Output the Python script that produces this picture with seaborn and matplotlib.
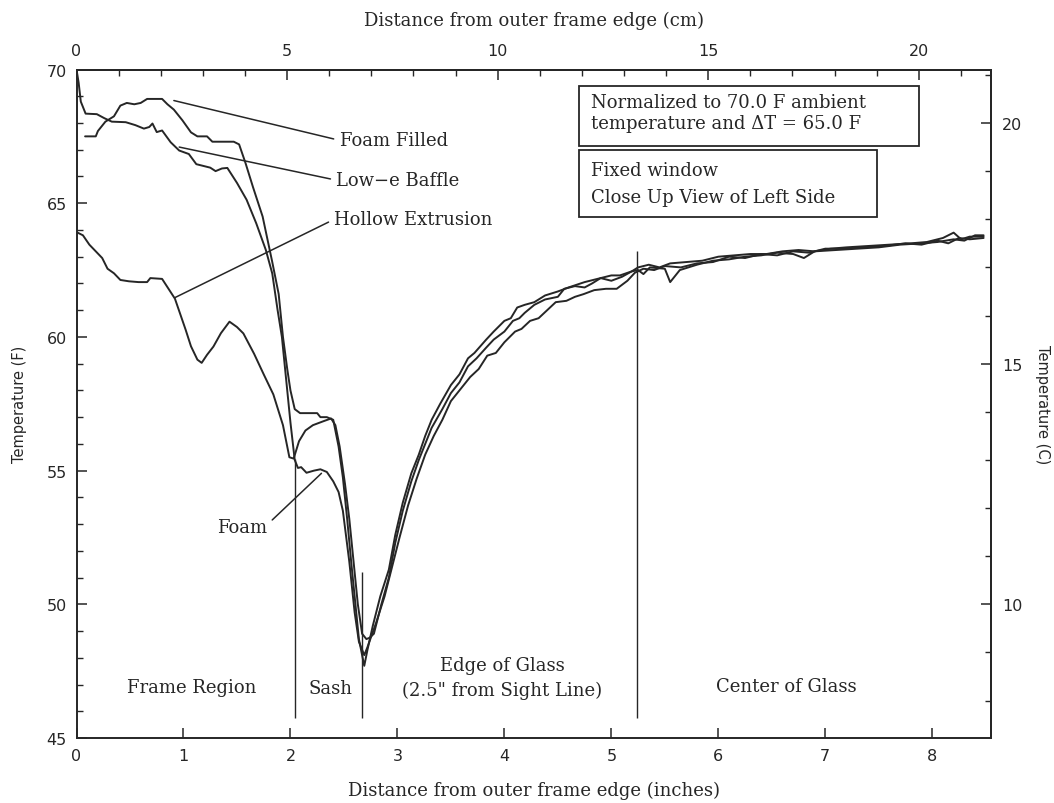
import matplotlib
matplotlib.use("Agg")
import matplotlib.pyplot as plt
import seaborn as sns
from matplotlib.ticker import FixedLocator, NullLocator
from matplotlib.patches import Rectangle

# ---------------- data (inches, deg F) ----------------
lowe_x = [0.00, 0.02, 0.04, 0.085, 0.19, 0.26, 0.33, 0.46, 0.55, 0.63, 0.68, 0.71, 0.75, 0.80, 0.88,
          0.96, 1.05, 1.12, 1.25, 1.30, 1.36, 1.41, 1.50, 1.59, 1.68, 1.77, 1.83, 1.88, 1.92, 1.96,
          2.00, 2.04, 2.07, 2.10, 2.15, 2.22, 2.28, 2.34, 2.40, 2.45, 2.49, 2.55, 2.60, 2.64, 2.69,
          2.72, 2.80, 2.88, 2.95, 3.02, 3.10, 3.18, 3.26, 3.34, 3.42, 3.50, 3.60, 3.68, 3.76, 3.84,
          3.92, 4.00, 4.10, 4.16, 4.24, 4.32, 4.40, 4.48, 4.58, 4.66, 4.74, 4.84, 4.95, 5.05, 5.15,
          5.22, 5.30, 5.40, 5.50, 5.65, 5.80, 5.95, 6.10, 6.25, 6.40, 6.55, 6.70, 6.85, 7.00, 7.20,
          7.35, 7.55, 7.75, 7.90, 8.05, 8.15, 8.25, 8.35, 8.48]
lowe_f = [70.0, 69.5, 68.8, 68.35, 68.33, 68.18, 68.05, 68.03, 67.92, 67.79, 67.85, 67.98, 67.66, 67.72, 67.28,
          66.97, 66.84, 66.46, 66.33, 66.2, 66.3, 66.32, 65.76, 65.13, 64.25, 63.25, 62.37, 61.0, 60.0, 58.4,
          56.8, 55.4, 55.1, 55.13, 54.92, 55.0, 55.05, 54.95, 54.6, 54.2, 53.5, 51.6, 49.7, 48.6, 48.1,
          48.4, 49.3, 50.3, 51.4, 52.5, 53.7, 54.7, 55.6, 56.3, 56.9, 57.6, 58.1, 58.5, 58.8, 59.3,
          59.4, 59.8, 60.2, 60.3, 60.6, 60.7, 61.0, 61.3, 61.35, 61.5, 61.6, 61.75, 61.8, 61.8, 62.1,
          62.4, 62.55, 62.5, 62.65, 62.6, 62.75, 62.8, 63.0, 62.95, 63.1, 63.05, 63.2, 63.15, 63.3, 63.3,
          63.35, 63.4, 63.5, 63.45, 63.6, 63.5, 63.7, 63.65, 63.7]

foam_x = [0.08, 0.18, 0.20, 0.27, 0.35, 0.41, 0.47, 0.54, 0.60, 0.66, 0.80, 0.85, 0.91, 0.99, 1.07,
          1.13, 1.22, 1.27, 1.47, 1.52, 1.58, 1.65, 1.74, 1.83, 1.89, 1.93, 1.97, 2.00, 2.04, 2.09,
          2.16, 2.25, 2.28, 2.34, 2.40, 2.45, 2.49, 2.53, 2.57, 2.61, 2.64, 2.69, 2.72, 2.77, 2.84,
          2.92, 2.98, 3.05, 3.13, 3.20, 3.26, 3.32, 3.40, 3.50, 3.58, 3.66, 3.72, 3.83, 3.90, 4.00,
          4.06, 4.12, 4.19, 4.28, 4.38, 4.50, 4.60, 4.75, 4.85, 5.00, 5.08, 5.19, 5.25, 5.35, 5.45,
          5.55, 5.70, 5.85, 6.00, 6.15, 6.30, 6.45, 6.60, 6.75, 6.90, 7.05, 7.20, 7.40, 7.60, 7.80,
          7.95, 8.10, 8.20, 8.27, 8.35, 8.48]
foam_f = [67.5, 67.5, 67.7, 68.05, 68.25, 68.65, 68.75, 68.7, 68.75, 68.9, 68.9, 68.7, 68.5, 68.1, 67.65,
          67.5, 67.5, 67.3, 67.3, 67.2, 66.5, 65.6, 64.5, 62.8, 61.6, 60.0, 58.8, 58.0, 57.3, 57.15,
          57.15, 57.15, 57.0, 57.0, 56.9, 55.9, 54.75, 53.2, 51.5, 49.9, 48.7, 47.7, 48.3, 49.2, 50.3,
          51.3, 52.6, 53.8, 54.9, 55.6, 56.3, 56.9, 57.5, 58.2, 58.6, 59.2, 59.4, 59.9, 60.2, 60.6,
          60.7, 61.1, 61.2, 61.3, 61.55, 61.7, 61.85, 62.05, 62.15, 62.3, 62.3, 62.45, 62.6, 62.7, 62.6,
          62.75, 62.8, 62.85, 63.0, 63.05, 63.1, 63.1, 63.2, 63.25, 63.2, 63.3, 63.35, 63.4, 63.45, 63.5,
          63.55, 63.7, 63.9, 63.65, 63.75, 63.75]

hollow_x = [0.01, 0.06, 0.12, 0.18, 0.24, 0.29, 0.35, 0.41, 0.49, 0.58, 0.66, 0.69, 0.80, 0.86, 0.92,
            0.97, 1.02, 1.07, 1.13, 1.17, 1.22, 1.28, 1.35, 1.43, 1.50, 1.56, 1.66, 1.75, 1.84, 1.93,
            1.99, 2.03, 2.08, 2.14, 2.21, 2.31, 2.38, 2.42, 2.46, 2.51, 2.55, 2.59, 2.63, 2.67, 2.71,
            2.74, 2.78, 2.85, 2.92, 2.98, 3.05, 3.13, 3.20, 3.26, 3.32, 3.42, 3.50, 3.58, 3.66, 3.74,
            3.83, 3.90, 4.00, 4.08, 4.14, 4.19, 4.28, 4.38, 4.50, 4.56, 4.66, 4.75, 4.82, 4.90, 5.00,
            5.10, 5.19, 5.25, 5.30, 5.36, 5.50, 5.55, 5.60, 5.64, 5.80, 5.95, 6.10, 6.25, 6.40, 6.55,
            6.70, 6.80, 6.90, 7.10, 7.30, 7.50, 7.70, 7.90, 8.05, 8.20, 8.30, 8.40, 8.48]
hollow_f = [63.9, 63.8, 63.45, 63.2, 62.95, 62.55, 62.38, 62.13, 62.08, 62.05, 62.05, 62.2, 62.17, 61.8, 61.43,
            60.85, 60.27, 59.65, 59.15, 59.03, 59.33, 59.64, 60.14, 60.57, 60.37, 60.13, 59.37, 58.6, 57.85, 56.7,
            55.5, 55.45, 56.1, 56.5, 56.7, 56.85, 56.95, 56.7, 55.9, 54.5, 53.2, 51.6, 50.0, 48.9, 48.7,
            48.75, 48.9, 50.0, 51.0, 52.3, 53.5, 54.6, 55.4, 56.0, 56.6, 57.3, 57.9, 58.3, 58.9, 59.2,
            59.6, 59.9, 60.2, 60.6, 60.7, 60.9, 61.2, 61.4, 61.5, 61.8, 61.9, 61.85, 62.0, 62.2, 62.1,
            62.25, 62.45, 62.5, 62.35, 62.6, 62.55, 62.05, 62.3, 62.5, 62.7, 62.85, 62.9, 63.0, 63.05, 63.15,
            63.1, 62.95, 63.2, 63.25, 63.3, 63.35, 63.45, 63.5, 63.55, 63.65, 63.6, 63.8, 63.8]

# axis ticks
inch_ticks = [0, 1, 2, 3, 4, 5, 6, 7, 8]
degf_ticks = [45, 50, 55, 60, 65, 70]
degf_minor = list(range(45, 71))
cm_ticks = [0, 5, 10, 15, 20]
cm_minor = list(range(0, 22))
degc_ticks = [10, 15, 20]
degc_minor = list(range(8, 22))

# region divider lines: (x position, top F); all start at divider_bottom
divider_x = [2.04, 2.67, 5.24]
divider_top = [55.45, 51.2, 63.2]
divider_bottom = 45.75

# curve labels: text, point on curve, text position
label_text = ["Foam Filled", "Low\u2212e Baffle", "Hollow Extrusion"]
label_xy = [(0.91, 68.84), (0.96, 67.1), (0.92, 61.47)]
label_pos = [(2.46, 67.35), (2.43, 65.86), (2.41, 64.4)]

region_text = ["Frame Region", "Sash", "Edge of Glass", "(2.5\" from Sight Line)", "Center of Glass"]
region_pos = [(1.08, 46.92), (2.37, 46.88), (3.98, 47.74), (3.98, 46.8), (6.64, 46.96)]

# ---------------- style ----------------
sns.set_style("ticks")
plt.rcParams['font.family'] = ['DejaVu Sans']
SERIF = ['DejaVu Serif']
FS = 13
INK = '#262626'

fig = plt.figure(figsize=(10.54, 8.04), dpi=100)
ax = fig.add_axes([0.0726, 0.0808, 0.8677, 0.8315])

for xs, ys in [(lowe_x, lowe_f), (foam_x, foam_f), (hollow_x, hollow_f)]:
    sns.lineplot(x=xs, y=ys, ax=ax, color=INK, linewidth=1.4, sort=False,
                 estimator=None, legend=False)

for dx, dt in zip(divider_x, divider_top):
    ax.vlines(dx, divider_bottom, dt, color=INK, linewidth=1.0)

ax.set_xlim(0, 8.55)
ax.set_ylim(45, 70)
ax.xaxis.set_major_locator(FixedLocator(inch_ticks))
ax.xaxis.set_minor_locator(NullLocator())
ax.yaxis.set_major_locator(FixedLocator(degf_ticks))
ax.yaxis.set_minor_locator(FixedLocator(degf_minor))
ax.tick_params(which='major', direction='in', length=7, width=1.1, color=INK,
               labelsize=11.5, labelcolor=INK, pad=7)
ax.tick_params(which='minor', direction='in', length=4, width=1.0, color=INK)
for sp in ax.spines.values():
    sp.set_linewidth(1.4)
    sp.set_color(INK)

# top axis (cm)
secx = ax.secondary_xaxis('top', functions=(lambda v: v * 2.54, lambda c: c / 2.54))
secx.xaxis.set_major_locator(FixedLocator(cm_ticks))
secx.xaxis.set_minor_locator(FixedLocator(cm_minor))
secx.tick_params(which='major', direction='in', length=7, width=1.1, color=INK,
                 labelsize=11.5, labelcolor=INK, pad=8)
secx.tick_params(which='minor', direction='in', length=4, width=1.0, color=INK)
secx.spines['top'].set_linewidth(1.4)
secx.set_xlabel("Distance from outer frame edge (cm)", family=SERIF, fontsize=FS,
                color=INK, labelpad=13)

# right axis (C)
secy = ax.secondary_yaxis('right', functions=(lambda f: (f - 32) * 5 / 9,
                                              lambda c: c * 9 / 5 + 32))
secy.yaxis.set_major_locator(FixedLocator(degc_ticks))
secy.yaxis.set_minor_locator(FixedLocator(degc_minor))
secy.tick_params(which='major', direction='in', length=7, width=1.1, color=INK,
                 labelsize=11.5, labelcolor=INK, pad=8)
secy.tick_params(which='minor', direction='in', length=4, width=1.0, color=INK)
secy.spines['right'].set_linewidth(1.4)
secy.set_ylabel("Temperature (C)", rotation=270, fontsize=10.5, color=INK, labelpad=20)

ax.set_xlabel("Distance from outer frame edge (inches)", family=SERIF, fontsize=FS,
              color=INK, labelpad=13)
ax.set_ylabel("Temperature (F)", fontsize=10.5, color=INK, labelpad=14)

# curve labels with pointer lines
for t, xy, pos in zip(label_text, label_xy, label_pos):
    ax.annotate(t, xy=xy, xytext=pos, ha='left', va='center', family=SERIF,
                fontsize=FS, color=INK,
                arrowprops=dict(arrowstyle='-', color=INK, lw=1.1, shrinkA=2, shrinkB=0,
                                relpos=(0, 0.5)))
ax.annotate("Foam", xy=(2.29, 54.9), xytext=(1.78, 52.9), ha='right', va='center',
            family=SERIF, fontsize=FS, color=INK,
            arrowprops=dict(arrowstyle='-', color=INK, lw=1.1, shrinkA=2, shrinkB=0,
                            relpos=(1, 0.6)))

for t, (px, py) in zip(region_text, region_pos):
    ax.text(px, py, t, ha='center', va='center', family=SERIF, fontsize=FS, color=INK)

# info boxes
ax.add_patch(Rectangle((0.549, 0.886), 0.372, 0.089, transform=ax.transAxes,
                       fill=False, lw=1.3, ec=INK, clip_on=False))
ax.add_patch(Rectangle((0.549, 0.779), 0.326, 0.101, transform=ax.transAxes,
                       fill=False, lw=1.3, ec=INK, clip_on=False))
ax.text(0.562, 0.952, "Normalized to 70.0 F ambient", transform=ax.transAxes,
        ha='left', va='center', family=SERIF, fontsize=FS, color=INK)
ax.text(0.562, 0.920, "temperature and \u0394T = 65.0 F", transform=ax.transAxes,
        ha='left', va='center', family=SERIF, fontsize=FS, color=INK)
ax.text(0.562, 0.849, "Fixed window", transform=ax.transAxes,
        ha='left', va='center', family=SERIF, fontsize=FS, color=INK)
ax.text(0.562, 0.809, "Close Up View of Left Side", transform=ax.transAxes,
        ha='left', va='center', family=SERIF, fontsize=FS, color=INK)

fig.savefig("out.png", dpi=100, facecolor='white')
